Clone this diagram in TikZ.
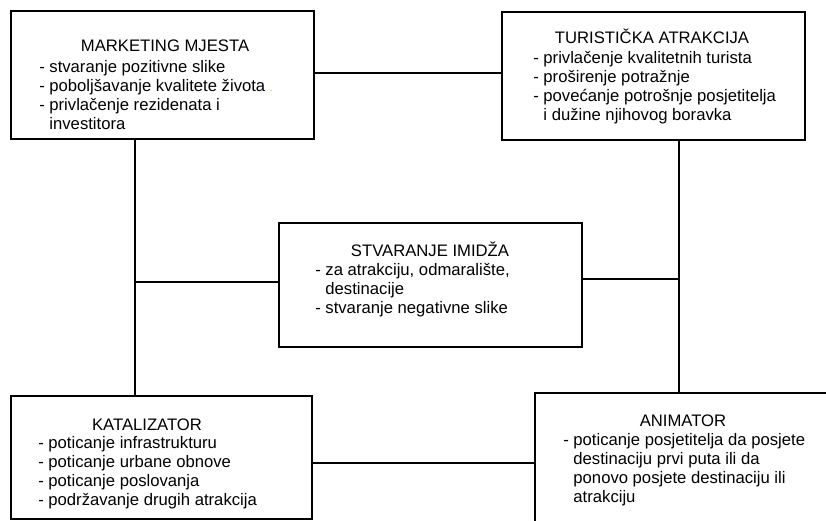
\documentclass[tikz,border=0pt]{standalone}
\usepackage{fontspec}
\setmainfont{Liberation Sans}
\usepackage{xcolor}

\tikzset{
  okvir/.style={draw, line width=1.7pt, minimum width=227.25pt, inner sep=0pt},
  veza/.style={line width=1.7pt},
  tekst/.style={inner sep=0.75pt, font=\fontsize{12.5}{14.3}\selectfont},
}

\begin{document}
\begin{tikzpicture}[x=0.75pt,y=0.75pt,yscale=-1,xscale=1]
\useasboundingbox (0,0) rectangle (826,521);
\clip (0,0) rectangle (826,521);

%Shape: Rectangle
\node [okvir, minimum height=96pt] (mjesto) at (162.5,75) {};
%Shape: Rectangle
\node [okvir, minimum height=96pt] (atrakcija) at (653.5,76) {};
%Shape: Rectangle
\node [okvir, minimum height=93pt] (imidz) at (430.5,285) {};
%Shape: Rectangle
\node [okvir, minimum height=92.25pt, minimum width=225.75pt] (katalizator) at (161.5,457.5) {};
%Shape: Rectangle
\node [okvir, minimum height=110.25pt, minimum width=232.5pt] (animator) at (690,466.5) {};

\coordinate (gore) at (408,73);
\coordinate (lijevo) at (135,282);
\coordinate (desno) at (679,279);
\coordinate (dolje) at (424,463);

%Straight Lines
\draw [veza] (mjesto.east |- gore) -- (atrakcija.west |- gore);
%Straight Lines
\draw [veza] (mjesto.south -| lijevo) -- (katalizator.north -| lijevo);
%Straight Lines
\draw [veza] (imidz.west |- lijevo) -- (lijevo);
%Straight Lines
\draw [veza] (atrakcija.south -| desno) -- (animator.north -| desno);
%Straight Lines
\draw [veza] (imidz.east |- desno) -- (desno);
%Straight Lines
\draw [veza] (katalizator.east |- dolje) -- (animator.west |- dolje);

% Text Node
\draw (165,51) node [anchor=base][tekst] (mjesto-naslov) {MARKETING MJESTA};
% Text Node
\draw (38,59) node [anchor=north west][tekst] [align=left] (mjesto-tekst) {- stvaranje pozitivne slike\\- poboljšavanje kvalitete života {\color{orange}\scriptsize .}\\- privlačenje rezidenata i\\\hphantom{- }investitora};
% Text Node
\draw (652,43) node [anchor=base][tekst] (atrakcija-naslov) {TURISTIČKA ATRAKCIJA};
% Text Node
\draw (532,50) node [anchor=north west][tekst] [align=left] (atrakcija-tekst) {- privlačenje kvalitetnih turista\\- proširenje potražnje\\- povećanje potrošnje posjetitelja\\\hphantom{- }i dužine njihovog boravka};
% Text Node
\draw (430,256) node [anchor=base][tekst] (imidz-naslov) {STVARANJE IMIDŽA};
% Text Node
\draw (314,262) node [anchor=north west][tekst] [align=left] (imidz-tekst) {- za atrakciju, odmaralište,\\\hphantom{- }destinacije\\- stvaranje negativne slike};
% Text Node
\draw (147,430) node [anchor=base][tekst] (katalizator-naslov) {KATALIZATOR};
% Text Node
\draw (37,435) node [anchor=north west][tekst] [align=left] (katalizator-tekst) {- poticanje infrastrukturu\\- poticanje urbane obnove\\- poticanje poslovanja\\- podržavanje drugih atrakcija};
% Text Node
\draw (683,426) node [anchor=base][tekst] (animator-naslov) {ANIMATOR};
% Text Node
\draw (562,432) node [anchor=north west][tekst] [align=left] (animator-tekst) {- poticanje posjetitelja da posjete\\\hphantom{- }destinaciju prvi puta ili da\\\hphantom{- }ponovo posjete destinaciju ili\\\hphantom{- }atrakciju};

\end{tikzpicture}
\end{document}
